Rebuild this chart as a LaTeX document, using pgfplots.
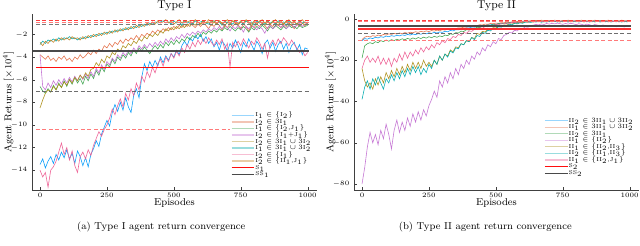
\documentclass[border=0pt]{standalone}
\usepackage{pgfplots}
\pgfplotsset{compat=1.18}
\usepackage{pgfplotstable}
\definecolor{c1}{HTML}{009AFA}
\definecolor{c2}{HTML}{E36F47}
\definecolor{c3}{HTML}{3EA44E}
\definecolor{c4}{HTML}{C371D2}
\definecolor{c5}{HTML}{AC8E18}
\definecolor{c6}{HTML}{00AAAE}
\definecolor{c7}{HTML}{ED5E93}
\definecolor{c8}{HTML}{C68225}
\definecolor{ssgray}{HTML}{404040}

\pgfplotstableread{
ep b o g p t c k d
0 -13.5 -3.8 -6.6 -3.8 -8.5 -2.9 -14.0 -2.7
10 -13.0 -4.0 -7.0 -6.6 -7.8 -2.6 -14.6 -3.0
20 -13.8 -4.2 -7.2 -6.9 -7.2 -2.8 -14.2 -2.6
30 -13.2 -3.9 -6.8 -6.3 -6.9 -2.5 -15.5 -2.8
40 -12.8 -4.3 -7.1 -6.7 -7.1 -2.6 -14.0 -2.5
50 -13.4 -4.1 -6.5 -6.1 -6.6 -2.4 -13.7 -2.7
60 -12.6 -4.4 -6.9 -6.5 -6.9 -2.6 -13.2 -2.4
70 -13.1 -4.0 -6.3 -6.0 -6.4 -2.3 -12.4 -2.6
80 -12.4 -4.2 -6.7 -6.4 -6.7 -2.5 -11.6 -2.3
90 -12.9 -3.9 -6.1 -5.9 -6.2 -2.3 -12.6 -2.5
100 -12.2 -4.3 -6.6 -6.3 -6.5 -2.4 -12.0 -2.3
110 -13.0 -4.1 -6.0 -5.8 -6.0 -2.2 -13.1 -2.5
120 -12.5 -4.4 -6.4 -6.2 -6.3 -2.4 -12.3 -2.2
130 -13.4 -4.0 -5.8 -5.7 -5.8 -2.3 -13.6 -2.4
140 -12.3 -4.2 -6.3 -6.1 -6.1 -2.5 -14.2 -2.3
150 -12.8 -3.8 -5.9 -5.6 -5.6 -2.3 -12.8 -2.5
160 -13.6 -4.1 -6.4 -6.0 -5.9 -2.4 -12.4 -2.2
170 -12.9 -3.9 -5.7 -5.5 -5.4 -2.2 -13.0 -2.4
180 -13.7 -3.6 -6.1 -5.9 -5.7 -2.3 -12.2 -2.1
190 -12.6 -3.8 -5.5 -5.3 -5.1 -2.1 -12.7 -2.3
200 -12.1 -3.4 -5.9 -5.7 -5.0 -2.2 -11.8 -2.0
210 -11.4 -3.7 -5.2 -5.0 -4.5 -2.0 -11.2 -2.2
220 -11.9 -3.3 -5.6 -5.4 -4.8 -2.1 -10.6 -1.9
230 -10.8 -3.5 -4.9 -4.7 -4.2 -1.9 -11.0 -2.1
240 -10.2 -3.0 -5.3 -5.1 -4.5 -2.0 -10.4 -1.8
250 -9.6 -3.2 -4.6 -4.4 -3.9 -1.8 -10.0 -2.0
260 -10.1 -2.8 -4.9 -4.7 -4.1 -1.9 -9.4 -1.7
270 -8.9 -3.1 -4.2 -4.1 -3.6 -1.7 -8.6 -1.9
280 -8.2 -2.7 -4.6 -4.4 -3.8 -1.8 -9.1 -1.6
290 -8.8 -2.9 -4.0 -3.8 -3.3 -1.6 -8.3 -1.8
300 -8.0 -2.5 -4.3 -4.1 -3.5 -1.7 -7.7 -1.5
310 -8.7 -2.8 -3.8 -3.6 -3.0 -1.5 -8.4 -1.7
320 -7.6 -2.4 -4.1 -3.9 -3.2 -1.6 -7.2 -1.4
330 -8.4 -2.6 -3.6 -3.4 -2.8 -1.4 -7.8 -1.6
340 -8.9 -2.3 -3.9 -3.7 -3.0 -1.5 -6.8 -1.3
350 -7.4 -2.5 -3.4 -3.2 -2.6 -1.3 -7.4 -1.5
360 -6.8 -2.1 -3.7 -3.5 -2.8 -1.4 -6.3 -1.2
370 -7.6 -2.4 -3.2 -3.0 -2.4 -1.2 -6.9 -1.4
380 -5.8 -2.0 -3.5 -3.3 -2.6 -1.3 -5.7 -1.1
390 -4.6 -2.2 -3.1 -2.9 -2.2 -1.1 -6.2 -1.3
400 -5.2 -1.9 -3.4 -3.2 -2.4 -1.2 -5.3 -1.0
410 -4.4 -2.1 -3.7 -2.8 -2.0 -1.0 -5.8 -1.2
420 -4.9 -1.7 -3.3 -3.1 -2.2 -1.1 -4.9 -0.9
430 -4.3 -1.9 -3.0 -2.7 -1.9 -0.9 -5.4 -1.1
440 -4.8 -1.6 -3.3 -3.0 -2.1 -1.0 -4.6 -0.8
450 -4.0 -1.8 -2.9 -2.6 -1.7 -0.9 -4.2 -1.0
460 -4.5 -1.5 -3.2 -2.9 -1.9 -0.8 -4.8 -0.9
470 -3.9 -1.7 -2.7 -2.4 -1.5 -1.0 -4.0 -0.7
480 -4.3 -1.4 -3.0 -2.7 -1.7 -0.9 -4.4 -1.0
490 -3.7 -1.6 -2.6 -2.3 -1.4 -1.1 -3.7 -0.8
500 -4.0 -1.3 -2.9 -2.6 -1.6 -0.8 -4.1 -1.1
510 -3.4 -1.5 -2.5 -2.2 -1.3 -1.0 -3.5 -0.9
520 -3.8 -1.2 -2.8 -2.4 -1.5 -0.9 -3.9 -0.7
530 -3.0 -1.4 -2.4 -2.0 -1.2 -1.2 -3.2 -1.0
540 -2.6 -1.1 -2.6 -2.3 -1.4 -0.8 -3.6 -0.8
550 -3.0 -1.3 -2.2 -1.9 -1.1 -1.0 -2.9 -0.9
560 -2.3 -1.0 -2.5 -2.1 -1.3 -0.9 -3.3 -0.8
570 -2.6 -1.2 -2.1 -1.8 -1.0 -1.1 -2.7 -1.0
580 -2.1 -1.4 -2.3 -2.0 -1.2 -0.8 -3.1 -0.7
590 -2.4 -1.1 -1.9 -1.7 -0.9 -1.0 -2.5 -0.9
600 -2.0 -1.3 -2.2 -1.9 -1.1 -0.9 -2.9 -1.1
610 -2.6 -1.0 -1.8 -1.6 -0.8 -0.8 -2.4 -0.8
620 -2.2 -1.2 -2.0 -1.8 -1.0 -1.0 -2.8 -1.0
630 -2.8 -1.5 -1.7 -1.5 -0.9 -1.1 -2.3 -0.7
640 -2.4 -1.1 -1.9 -1.7 -1.2 -0.9 -2.7 -0.9
650 -3.1 -1.3 -1.6 -1.4 -0.9 -0.8 -3.0 -0.8
660 -2.7 -1.0 -1.8 -1.6 -1.1 -1.0 -2.5 -1.0
670 -3.4 -1.2 -1.5 -1.3 -0.8 -0.9 -2.9 -0.8
680 -2.6 -1.6 -1.7 -1.5 -1.0 -1.2 -2.4 -1.1
690 -2.9 -1.2 -1.4 -1.2 -1.3 -0.8 -3.3 -0.9
700 -3.5 -1.4 -1.6 -1.4 -0.9 -1.0 -2.8 -0.7
710 -2.8 -1.1 -1.3 -1.7 -1.1 -0.9 -4.9 -1.0
720 -3.2 -1.3 -1.5 -1.3 -0.8 -1.1 -2.7 -0.8
730 -2.5 -1.0 -1.7 -1.5 -1.0 -0.8 -3.1 -0.9
740 -3.0 -1.2 -1.4 -1.2 -1.2 -1.0 -2.6 -1.1
750 -3.6 -1.5 -1.6 -1.4 -0.9 -0.9 -3.0 -0.8
760 -2.7 -1.1 -1.3 -1.8 -1.1 -1.1 -2.4 -1.0
770 -3.1 -1.3 -1.5 -1.3 -0.8 -0.8 -2.8 -0.7
780 -2.4 -1.7 -1.8 -1.5 -1.0 -1.0 -3.2 -0.9
790 -2.9 -1.2 -1.4 -1.2 -1.3 -0.9 -2.6 -1.1
800 -3.4 -1.4 -1.6 -1.4 -0.9 -1.2 -2.9 -0.8
810 -2.6 -1.1 -1.3 -1.6 -1.1 -0.8 -2.3 -1.0
820 -3.0 -1.3 -1.5 -1.3 -0.8 -1.0 -2.7 -0.9
830 -3.7 -1.0 -1.2 -1.5 -1.0 -0.9 -3.3 -0.7
840 -2.8 -1.2 -1.4 -1.9 -1.2 -1.1 -2.8 -1.0
850 -2.5 -1.5 -1.7 -1.4 -0.9 -0.8 -4.1 -0.8
860 -3.2 -1.1 -1.3 -1.2 -1.1 -1.0 -2.9 -1.1
870 -2.7 -1.3 -1.5 -1.5 -0.8 -0.9 -2.5 -0.9
880 -3.5 -1.0 -1.2 -1.3 -1.0 -1.1 -3.0 -0.7
890 -2.9 -1.2 -1.4 -1.1 -1.2 -0.8 -2.4 -1.0
900 -2.6 -1.4 -1.6 -1.4 -0.9 -1.0 -2.8 -0.8
910 -3.3 -1.1 -1.3 -1.2 -1.1 -0.9 -2.3 -1.1
920 -2.8 -1.3 -1.5 -1.5 -0.8 -1.2 -2.6 -0.9
930 -3.6 -1.0 -1.2 -1.3 -1.0 -0.8 -3.0 -0.7
940 -3.0 -1.2 -1.4 -1.1 -1.2 -1.0 -2.5 -1.0
950 -2.7 -1.5 -1.3 -1.4 -0.9 -0.9 -2.9 -0.8
960 -3.4 -1.1 -1.5 -1.2 -1.1 -1.1 -3.2 -1.1
970 -2.9 -1.3 -1.2 -1.0 -0.8 -0.8 -3.6 -0.9
980 -3.8 -1.0 -1.4 -1.3 -1.0 -1.0 -3.4 -0.7
990 -3.2 -1.2 -1.3 -1.1 -1.2 -0.9 -3.9 -1.0
1000 -3.3 -1.1 -1.2 -1.0 -1.0 -1.0 -3.6 -0.9
}\tblA

\pgfplotstableread{
ep b o g p t c k
0 -10.5 -10.0 -19.0 -80 -24 -39 -24
10 -9.5 -8.8 -13.0 -72 -30 -33 -20
20 -9.8 -8.4 -12.0 -62 -33 -30 -18
30 -9.2 -8.7 -11.5 -55 -31 -34 -21
40 -9.5 -8.1 -12.0 -60 -34 -29 -19
50 -8.9 -8.4 -11.0 -56 -29 -32 -21
60 -9.2 -7.8 -11.5 -61 -32 -28 -18
70 -8.6 -8.1 -10.5 -54 -28 -31 -22
80 -8.9 -7.5 -11.0 -58 -31 -34 -19
90 -8.3 -7.8 -10.2 -51 -26 -29 -22
100 -8.6 -7.2 -10.8 -56 -29 -31 -19
110 -8.1 -7.5 -10.0 -63 -25 -27 -23
120 -8.4 -7.0 -10.5 -54 -28 -30 -19
130 -7.9 -7.3 -9.8 -49 -24 -26 -21
140 -8.2 -6.8 -10.3 -55 -27 -29 -17
150 -7.7 -7.1 -9.6 -50 -23 -25 -20
160 -8.0 -6.6 -10.1 -54 -26 -28 -16
170 -7.5 -6.9 -9.4 -48 -22 -24 -19
180 -7.8 -6.4 -9.9 -52 -25 -27 -16
190 -7.3 -6.7 -9.2 -46 -21 -23 -18
200 -7.6 -6.2 -9.7 -50 -24 -26 -15
210 -7.1 -6.5 -9.0 -45 -21 -23 -17
220 -7.4 -6.0 -9.5 -49 -24 -27 -14
230 -6.9 -6.3 -8.8 -44 -20 -24 -16
240 -7.2 -5.8 -9.3 -47 -23 -26 -13.5
250 -6.7 -6.1 -8.6 -42 -21 -22 -15
260 -7.0 -5.6 -9.1 -39 -23 -24 -12.5
270 -6.5 -5.9 -8.4 -35 -20 -20 -14
280 -6.8 -5.4 -8.9 -38 -22 -22 -11.5
290 -6.3 -5.7 -8.2 -30 -18 -18 -12.5
300 -6.5 -5.2 -8.6 -33 -20 -20 -10.5
310 -6.0 -5.4 -7.8 -28 -17 -17 -11.5
320 -6.2 -4.9 -8.1 -31 -18 -18.5 -9.5
330 -5.6 -5.1 -7.2 -26 -15 -15.5 -10
340 -5.8 -4.6 -7.5 -29 -16 -16.5 -8.5
350 -5.2 -4.8 -6.6 -24 -13.5 -14 -9
360 -5.3 -4.3 -6.8 -27 -14 -14.5 -7.5
370 -4.8 -4.4 -5.9 -22 -12 -12 -8
380 -4.9 -3.9 -6.1 -24 -12.5 -12.5 -6.5
390 -4.3 -4.0 -5.2 -20 -10.5 -10.5 -7
400 -4.4 -3.5 -5.4 -22 -11 -11 -5.8
410 -3.9 -3.6 -4.6 -18 -9 -9 -6
420 -4.0 -3.1 -4.8 -19.5 -9.5 -10 -5
430 -3.5 -3.2 -4.0 -16 -7 -8 -5.2
440 -3.6 -2.8 -4.2 -17.5 -7.5 -8.5 -4.3
450 -3.1 -2.9 -3.5 -14 -6 -6.5 -4.5
460 -3.2 -2.5 -3.6 -15.5 -6.3 -7 -3.7
470 -2.8 -2.6 -3.0 -12.5 -5 -5.5 -3.8
480 -2.9 -2.2 -3.1 -13.5 -5.2 -5.8 -3.2
490 -2.5 -2.3 -2.6 -11 -4.2 -4.5 -3.3
500 -2.6 -2.0 -2.7 -12 -4.4 -4.8 -2.7
510 -2.2 -2.1 -2.3 -9.5 -3.5 -3.8 -2.8
520 -2.3 -1.8 -2.4 -10 -3.6 -4.0 -2.3
530 -2.0 -1.9 -2.0 -8 -2.9 -3.2 -2.4
540 -2.1 -1.6 -2.1 -7.5 -3.0 -3.4 -2.0
550 -1.8 -1.7 -1.8 -6.5 -2.4 -2.6 -2.1
560 -1.9 -1.4 -1.9 -6.8 -2.5 -2.8 -1.7
570 -1.6 -1.5 -1.6 -5.5 -2.0 -2.2 -1.8
580 -1.7 -1.2 -1.7 -5.8 -2.1 -2.4 -1.5
590 -1.4 -1.3 -1.4 -4.6 -1.7 -1.9 -1.6
600 -1.5 -1.1 -1.5 -4.8 -1.8 -2.1 -1.4
610 -1.2 -0.9 -1.3 -3.8 -1.4 -1.6 -1.2
620 -1.0 -1.1 -1.1 -4.0 -1.6 -1.4 -1.5
630 -1.3 -0.8 -1.4 -3.2 -1.2 -1.7 -1.1
640 -1.1 -1.0 -1.2 -3.0 -1.5 -1.3 -1.4
650 -0.9 -0.7 -1.0 -2.6 -1.1 -1.5 -1.2
660 -1.2 -0.9 -1.3 -2.9 -1.4 -1.2 -1.0
670 -1.0 -0.6 -1.1 -2.4 -1.0 -1.6 -1.3
680 -1.3 -0.8 -1.4 -2.7 -1.3 -1.3 -1.1
690 -0.9 -1.0 -1.0 -2.2 -1.1 -1.5 -1.4
700 -1.1 -0.7 -1.2 -2.5 -1.4 -1.2 -1.0
710 -0.8 -0.9 -1.0 -2.1 -1.0 -1.4 -1.3
720 -1.2 -0.6 -1.3 -2.4 -1.3 -1.1 -1.1
730 -1.0 -0.8 -1.1 -2.0 -1.1 -1.5 -0.9
740 -1.3 -1.0 -1.4 -2.3 -1.5 -1.2 -1.2
750 -0.9 -0.7 -1.0 -2.6 -1.1 -1.4 -1.0
760 -1.1 -0.9 -1.2 -2.2 -1.3 -1.1 -1.3
770 -0.8 -0.6 -1.0 -2.5 -1.0 -1.5 -1.1
780 -1.2 -0.8 -1.3 -2.1 -1.4 -1.2 -1.4
790 -1.0 -1.0 -1.1 -2.4 -1.2 -1.4 -1.0
800 -1.3 -0.7 -1.4 -2.8 -1.0 -1.1 -1.2
810 -0.9 -0.9 -1.0 -2.3 -1.3 -1.5 -0.9
820 -1.1 -0.6 -1.2 -2.6 -1.1 -1.2 -1.3
830 -0.8 -0.8 -1.0 -3.0 -1.4 -1.4 -1.1
840 -1.2 -1.0 -1.3 -2.5 -1.0 -1.1 -1.4
850 -1.0 -0.7 -1.1 -2.8 -1.3 -1.5 -1.0
860 -1.3 -0.9 -1.4 -3.2 -1.1 -1.2 -1.2
870 -0.9 -0.6 -1.0 -2.7 -1.4 -1.4 -0.9
880 -1.1 -0.8 -1.2 -3.0 -1.2 -1.1 -1.3
890 -0.8 -1.0 -1.0 -3.4 -1.0 -1.5 -1.1
900 -1.2 -0.7 -1.3 -2.9 -1.3 -1.2 -1.4
910 -1.0 -0.9 -1.1 -3.2 -1.1 -1.4 -1.0
920 -1.3 -0.6 -1.4 -3.6 -1.4 -1.1 -1.2
930 -0.9 -0.8 -1.0 -3.1 -1.0 -1.5 -0.9
940 -1.1 -1.0 -1.2 -3.4 -1.3 -1.2 -1.3
950 -0.8 -0.7 -1.0 -3.8 -1.1 -1.4 -1.1
960 -1.2 -0.9 -1.3 -3.3 -1.4 -1.1 -1.4
970 -1.0 -0.6 -1.1 -3.6 -1.2 -1.5 -1.0
980 -1.3 -0.8 -1.4 -3.9 -1.0 -1.2 -1.2
990 -0.9 -1.0 -1.0 -3.4 -1.3 -1.4 -0.9
1000 -1.1 -0.8 -1.2 -3.6 -1.1 -1.2 -1.1
}\tblB

\pgfplotsset{
  every axis title shift=0pt,
  myax/.style={
    scale only axis, width=213.75pt, height=132pt,
    axis x line*=bottom, axis y line*=left,
    axis line style={black!75, line width=0.5pt},
    tick align=inside, major tick length=2pt,
    tick style={black!75},
    xmin=-30, xmax=1035,
    xtick={0,250,500,750,1000},
    scaled ticks=false,
    xticklabel style={/pgf/number format/1000 sep={}, yshift=1.5pt},
    tick label style={font=\fontsize{5.5}{6}\selectfont},
    label style={font=\fontsize{7.5}{8}\selectfont},
    title style={font=\fontsize{8.5}{9}\selectfont, at={(0.5,1)}, anchor=south, yshift=-1pt},
    xlabel={Episodes},
    ylabel={Agent Returns [$\times10^4$]},
    xlabel style={yshift=6pt},
    ylabel style={yshift=-9pt},
    every axis plot/.append style={line width=0.45pt, opacity=0.95},
    legend cell align=left,
    legend style={draw=none, fill=white, font=\fontsize{4.3}{4.8}\selectfont,
      inner sep=0.8pt,
      nodes={inner sep=0.3pt, text height=3.3pt, text depth=1pt},
      row sep=0pt},
  },
  hl/.style={forget plot, dash pattern=on 3pt off 1.8pt, line width=0.55pt},
}

\begin{document}
\begin{tikzpicture}
\useasboundingbox (0,0) rectangle (480pt,184.5pt);

% ---------- Type I ----------
\begin{axis}[myax, at={(24pt,42pt)}, anchor=south west,
  title={Type I},
  ymin=-15.75, ymax=-0.2, ytick={-14,-12,-10,-8,-6,-4,-2},
  legend style={at={(0.985,0.45)}, anchor=north east}]
\addplot[c1, forget plot] table[x=ep, y=b] {\tblA};
\addplot[c2, forget plot] table[x=ep, y=o] {\tblA};
\addplot[c3, forget plot] table[x=ep, y=g] {\tblA};
\addplot[c4, forget plot] table[x=ep, y=p] {\tblA};
\addplot[c5, forget plot] table[x=ep, y=t] {\tblA};
\addplot[c6, forget plot] table[x=ep, y=c] {\tblA};
\addplot[c7, forget plot] table[x=ep, y=k] {\tblA};
\addplot[c8, forget plot] table[x=ep, y=d] {\tblA};
\addplot[hl, red!80] coordinates {(-15,-0.75) (1005,-0.75)};
\addplot[hl, red!55] coordinates {(-15,-0.92) (1005,-0.92)};
\addplot[hl, black!55] coordinates {(-15,-1.12) (1005,-1.12)};
\addplot[hl, black!60] coordinates {(-15,-7.06) (1005,-7.06)};
\addplot[hl, red!55] coordinates {(-15,-10.4) (1005,-10.4)};
\addplot[forget plot, ssgray, line width=1.6pt] coordinates {(-25,-3.45) (1005,-3.45)};
\addplot[forget plot, red, line width=0.7pt] coordinates {(-15,-4.9) (1005,-4.9)};
\addlegendimage{c1, opacity=0.4, line width=1pt}\addlegendentry{I$_1\in\{$I$_2\}$}
\addlegendimage{c2, opacity=0.4, line width=1pt}\addlegendentry{I$_2\in 3$I$_1$}
\addlegendimage{c3, opacity=0.4, line width=1pt}\addlegendentry{I$_1\in\{$I$_2$,J$_1\}$}
\addlegendimage{c4, opacity=0.4, line width=1pt}\addlegendentry{I$_2\in\{$I$_1$+J$_1\}$}
\addlegendimage{c5, opacity=0.4, line width=1pt}\addlegendentry{I$_2\in 3$I$_1\cup 3$I$_2$}
\addlegendimage{c6, opacity=0.4, line width=1pt}\addlegendentry{I$_1\in 3$I$_1\cup 3$I$_2$}
\addlegendimage{c7, opacity=0.4, line width=1pt}\addlegendentry{I$_2\in\{$I$_1\}$}
\addlegendimage{c8, opacity=0.4, line width=1pt}\addlegendentry{I$_2\in\{$II$_1$,J$_1\}$}
\addlegendimage{red, line width=0.6pt}\addlegendentry{S$_1$}
\addlegendimage{ssgray, line width=0.6pt}\addlegendentry{SS$_1$}
\end{axis}

% ---------- Type II ----------
\begin{axis}[myax, at={(265.5pt,42pt)}, anchor=south west,
  title={Type II},
  ymin=-82.9, ymax=2.4, ytick={-80,-60,-40,-20,0},
  legend style={at={(0.986,0.42)}, anchor=north east}]
\addplot[c1, forget plot] table[x=ep, y=b] {\tblB};
\addplot[c2, forget plot] table[x=ep, y=o] {\tblB};
\addplot[c3, forget plot] table[x=ep, y=g] {\tblB};
\addplot[c4, forget plot] table[x=ep, y=p] {\tblB};
\addplot[c5, forget plot] table[x=ep, y=t] {\tblB};
\addplot[c6, forget plot] table[x=ep, y=c] {\tblB};
\addplot[c7, forget plot] table[x=ep, y=k] {\tblB};
\addplot[hl, red!80] coordinates {(-15,-0.5) (1005,-0.5)};
\addplot[hl, red!55] coordinates {(-15,-1.1) (1005,-1.1)};
\addplot[hl, black!60] coordinates {(-15,-6.9) (1005,-6.9)};
\addplot[hl, red!55] coordinates {(-15,-10.2) (1005,-10.2)};
\addplot[forget plot, ssgray, line width=1.4pt] coordinates {(-15,-3.25) (1005,-3.25)};
\addplot[forget plot, red!85, line width=1.4pt] coordinates {(-15,-4.7) (1005,-4.7)};
\addlegendimage{c1, opacity=0.4, line width=1pt}\addlegendentry{II$_2\in 3$II$_1\cup 3$II$_2$}
\addlegendimage{c2, opacity=0.4, line width=1pt}\addlegendentry{II$_1\in 3$II$_1\cup 3$II$_2$}
\addlegendimage{c3, opacity=0.4, line width=1pt}\addlegendentry{II$_2\in 3$II$_1$}
\addlegendimage{c4, opacity=0.4, line width=1pt}\addlegendentry{II$_1\in\{$II$_2\}$}
\addlegendimage{c5, opacity=0.4, line width=1pt}\addlegendentry{II$_1\in\{$II$_2$,II$_3\}$}
\addlegendimage{c6, opacity=0.4, line width=1pt}\addlegendentry{II$_2\in\{$II$_1$,II$_3\}$}
\addlegendimage{c7, opacity=0.4, line width=1pt}\addlegendentry{II$_1\in\{$II$_2$,J$_1\}$}
\addlegendimage{red, line width=0.6pt}\addlegendentry{S$_2$}
\addlegendimage{ssgray, line width=0.6pt}\addlegendentry{SS$_2$}
\end{axis}

\node[font=\fontsize{7.5}{9}\selectfont] at (121pt,14.5pt) {(a) Type I agent return convergence};
\node[font=\fontsize{7.5}{9}\selectfont] at (364pt,14.5pt) {(b) Type II agent return convergence};
\end{tikzpicture}
\end{document}
